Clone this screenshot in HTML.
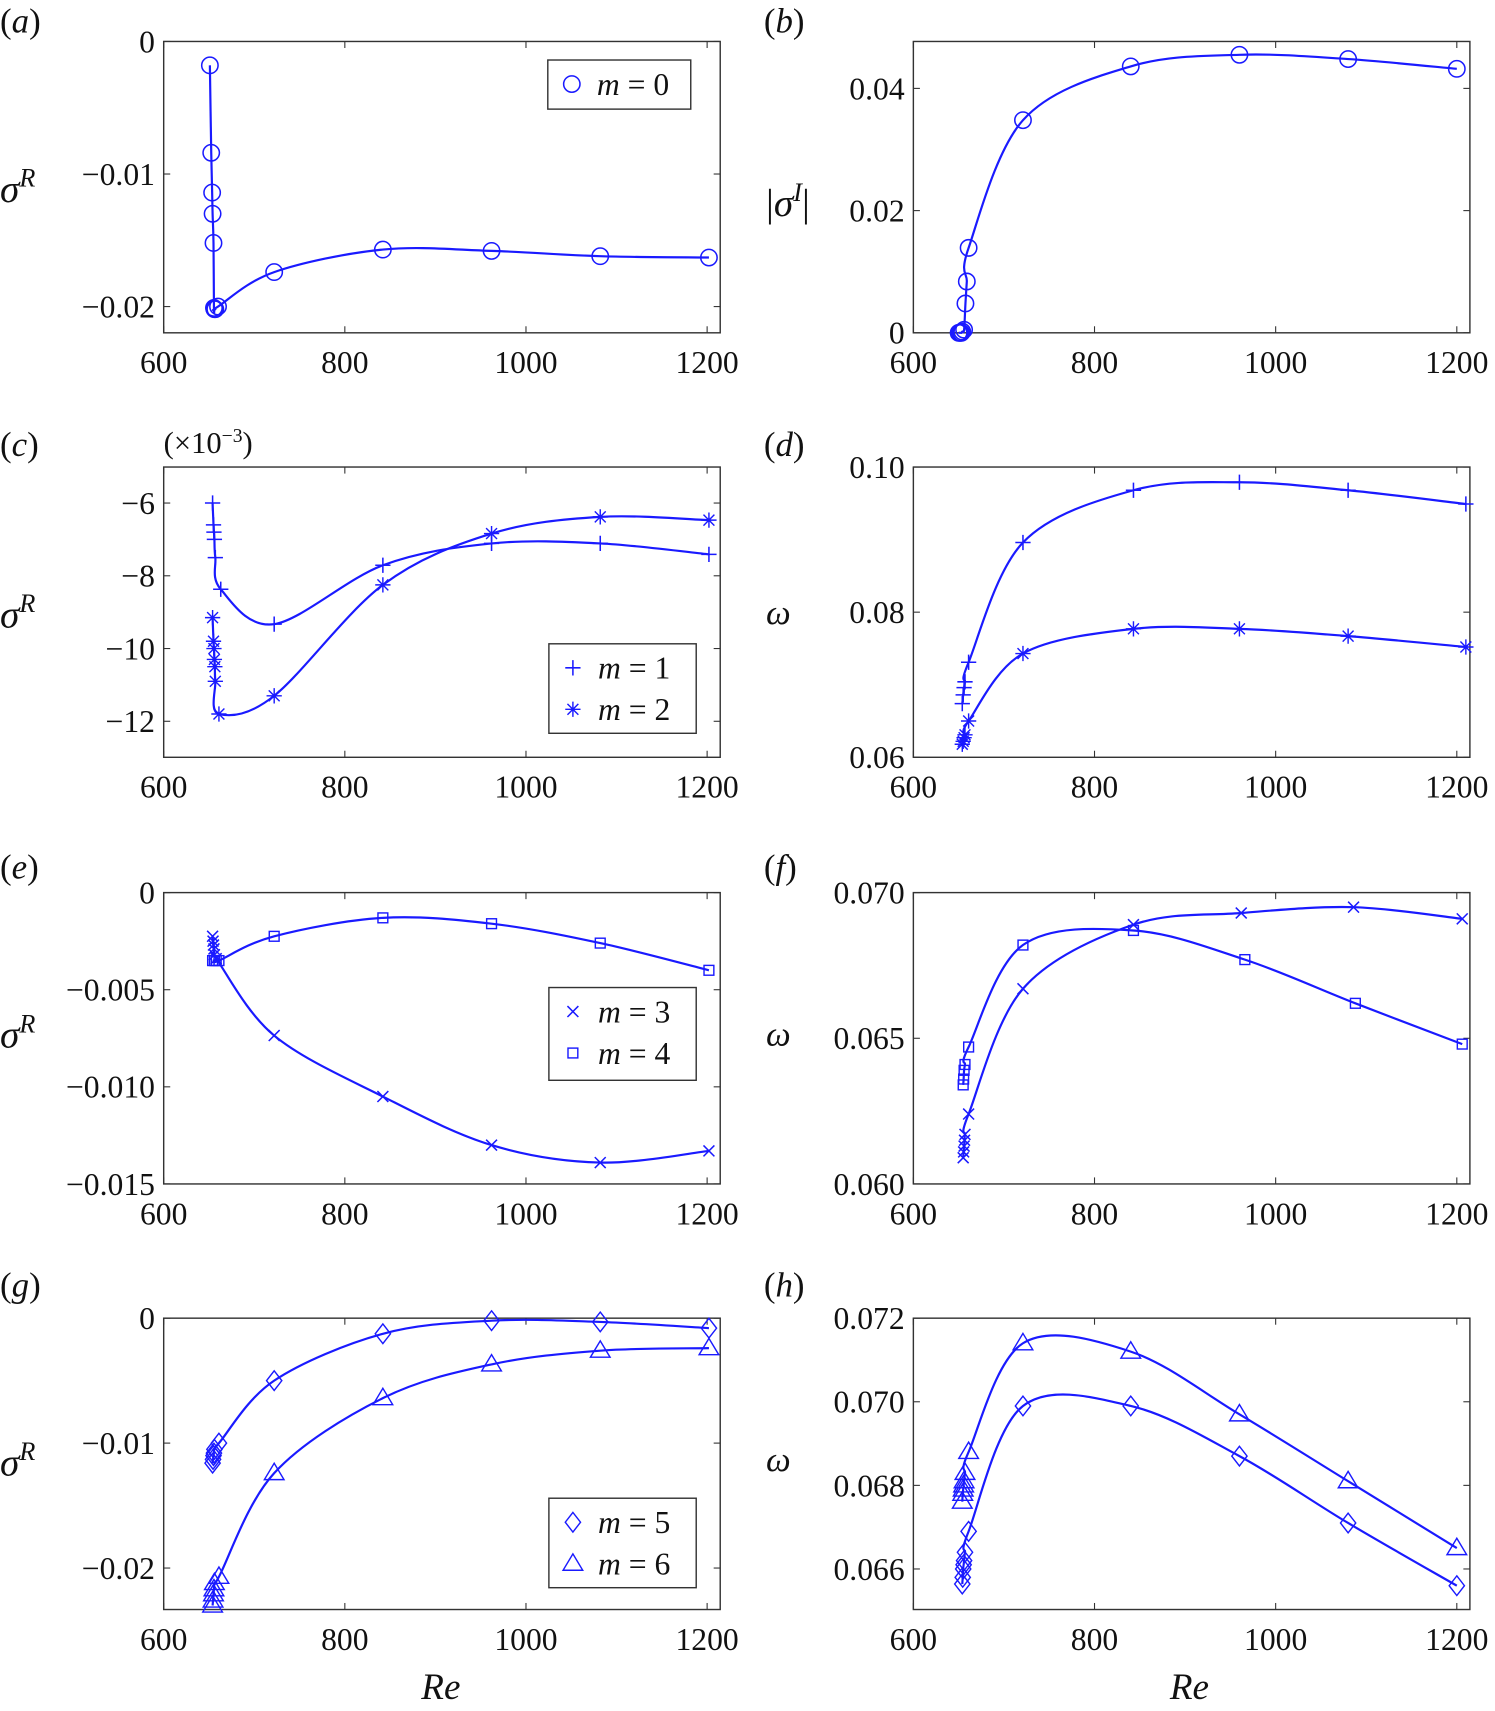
<!DOCTYPE html>
<html><head><meta charset="utf-8"><style>
html,body{margin:0;padding:0;background:#fff}
svg{display:block;font-family:"Liberation Serif","Times New Roman",serif}
svg text{font-family:"Liberation Serif","Times New Roman",serif;fill:#111}
</style></head><body>
<svg id="fig" width="1495" height="1711" viewBox="0 0 1370 1568" preserveAspectRatio="none" font-family="Liberation Serif, Times New Roman, serif" xmlns="http://www.w3.org/2000/svg"></svg>
<script>
// ---- data (Re, values) ----
const reA = [651,652.5,653.5,654,655,655.5,656,657,660,722,842,962,1082,1202];
const sigA_m0 = [-0.0018,-0.0084,-0.0114,-0.0130,-0.0152,-0.0201,-0.0202,-0.0202,-0.0200,-0.0174,-0.0157,-0.0158,-0.0162,-0.0163];
const reB = [650,651,652,653,654,656,657.5,659,661,721,840,960,1080,1200];
const sigB_m0 = [0,0,0,0,0.0002,0.0005,0.0048,0.0084,0.0139,0.0348,0.0436,0.0455,0.0448,0.0432];
const reC1 = [654,655,655.5,656,657,663,722,842,962,1082,1202];
const sigC_m1 = [-6.0,-6.6,-6.8,-7.0,-7.5,-8.37,-9.33,-7.71,-7.11,-7.11,-7.41];
const reC2 = [654,655,655.5,656,656.5,657,661,722,842,962,1082,1202];
const sigC_m2 = [-9.15,-9.8,-10.0,-10.3,-10.5,-10.9,-11.8,-11.3,-8.25,-6.84,-6.38,-6.47];
const reD = [654,655,656,657,661,721,843,960,1080,1210];
const omD_m1 = [0.0674,0.0686,0.0696,0.0704,0.0731,0.0896,0.0968,0.0979,0.0968,0.0949];
const omD_m2 = [0.0618,0.0622,0.0627,0.0631,0.0650,0.0743,0.0777,0.0777,0.0767,0.0752];
const reE = [654,654.5,655,655.5,656,658,722,842,962,1082,1202];
const sigE_m3 = [-0.00225,-0.0025,-0.0027,-0.0029,-0.0032,-0.0034,-0.00736,-0.0105,-0.0130,-0.0139,-0.0133];
const reE4 = [654,656,658,661,722,842,962,1082,1202];
const sigE_m4 = [-0.0035,-0.0035,-0.0035,-0.0035,-0.00225,-0.0013,-0.0016,-0.0026,-0.0040];
const reF = [655,655.5,656,656.5,657,661,721,843,962,1086,1206];
const omF_m3 = [0.0609,0.0611,0.0613,0.0615,0.0617,0.0624,0.0667,0.0689,0.0693,0.0695,0.0691];
const reF4 = [655,655.5,656,657,661,721,843,966,1088,1206];
const omF_m4 = [0.0634,0.0636,0.0639,0.0641,0.0647,0.0682,0.0687,0.0677,0.0662,0.0648];
const reG = [654,654.5,655,655.5,656,661,722,842,962,1082,1202];
const sigG_m5 = [-0.0116,-0.0113,-0.0110,-0.0108,-0.0105,-0.0100,-0.0050,-0.00125,-0.0002,-0.0003,-0.0008];
const sigG_m6 = [-0.0230,-0.0226,-0.0221,-0.0217,-0.0212,-0.0207,-0.0124,-0.0064,-0.0037,-0.0026,-0.0024];
const reH = [654,654.5,655,655.5,656,657,661,721,840,960,1080,1200];
const omH_m5 = [0.06564,0.0658,0.0660,0.0661,0.0662,0.0664,0.0669,0.0699,0.0699,0.0687,0.0671,0.0656];
const omH_m6 = [0.06761,0.0678,0.0679,0.0680,0.0681,0.0683,0.0688,0.0714,0.0712,0.0697,0.0681,0.0665];
const xTicks = [600,800,1000,1200];

const NS='http://www.w3.org/2000/svg', svg=document.getElementById('fig');
const FF='Liberation Serif, Times New Roman, serif';
function mk(tag,attrs,parent){const e=document.createElementNS(NS,tag);for(const k in attrs)e.setAttribute(k,attrs[k]);if(tag==='text')e.setAttribute('font-family',FF);(parent||svg).appendChild(e);return e;}
const C='#1a1aff';

function panel(id,x0,top,bot,ymin,ymax,yticks,ylabels){
  const g=mk('g',{});
  
  
  const w=510, sx=v=>x0+(v-600)*0.83, sy=v=>bot-(v-ymin)/(ymax-ymin)*(bot-top);
  const box=mk('rect',{x:x0,y:top,width:w,height:bot-top,fill:'none',stroke:'#333','stroke-width':1.3},g);
  
  xTicks.forEach(t=>{const x=sx(t);
    mk('line',{x1:x,y1:bot,x2:x,y2:bot-6,stroke:'#333'},g);mk('line',{x1:x,y1:top,x2:x,y2:top+6,stroke:'#333'},g);
    const tx=mk('text',{x:x,y:bot+37,'text-anchor':'middle','font-size':29},g);tx.textContent=t;
    });
  yticks.forEach((t,i)=>{const y=sy(t);
    mk('line',{x1:x0,y1:y,x2:x0+6,y2:y,stroke:'#333'},g);mk('line',{x1:x0+w,y1:y,x2:x0+w-6,y2:y,stroke:'#333'},g);
    const tx=mk('text',{x:x0-8,y:y+10,'text-anchor':'end','font-size':29},g);tx.textContent=ylabels[i];
    });
  return {g,sx,sy};
}
function path(P,xs,ys){
  const pts=xs.map((x,i)=>[P.sx(x),P.sy(ys[i])]);
  let d='M'+pts[0][0]+','+pts[0][1];
  for(let i=0;i<pts.length-1;i++){
    const p0=pts[Math.max(0,i-1)],p1=pts[i],p2=pts[i+1],p3=pts[Math.min(pts.length-1,i+2)];
    const c1=[p1[0]+(p2[0]-p0[0])/6,p1[1]+(p2[1]-p0[1])/6],c2=[p2[0]-(p3[0]-p1[0])/6,p2[1]-(p3[1]-p1[1])/6];
    d+=' C'+c1+' '+c2+' '+p2;
  }
  const e=mk('path',{d:d,fill:'none',stroke:C,'stroke-width':2},P.g);
  
}
function marker(g,type,x,y){
  const r=7;let e;
  if(type==='o')e=mk('circle',{cx:x,cy:y,r:7.5,fill:'none',stroke:C,'stroke-width':1.4},g);
  else if(type==='+')e=mk('path',{d:`M${x-r},${y}H${x+r}M${x},${y-r}V${y+r}`,stroke:C,'stroke-width':1.4},g);
  else if(type==='x')e=mk('path',{d:`M${x-5},${y-5}L${x+5},${y+5}M${x-5},${y+5}L${x+5},${y-5}`,stroke:C,'stroke-width':1.4},g);
  else if(type==='*')e=mk('path',{d:`M${x-r},${y}H${x+r}M${x},${y-r}V${y+r}M${x-5},${y-5}L${x+5},${y+5}M${x-5},${y+5}L${x+5},${y-5}`,stroke:C,'stroke-width':1.3},g);
  else if(type==='s')e=mk('rect',{x:x-4.5,y:y-4.5,width:9,height:9,fill:'none',stroke:C,'stroke-width':1.3},g);
  else if(type==='d')e=mk('path',{d:`M${x},${y-9}L${x+7},${y}L${x},${y+9}L${x-7},${y}Z`,fill:'none',stroke:C,'stroke-width':1.3},g);
  else if(type==='^')e=mk('path',{d:`M${x},${y-9}L${x+9},${y+6}L${x-9},${y+6}Z`,fill:'none',stroke:C,'stroke-width':1.3},g);
  
}
function series(P,xs,ys,type){path(P,xs,ys);xs.forEach((x,i)=>marker(P.g,type,P.sx(x),P.sy(ys[i])));}
function txt(html,x,y,size,name,anchor){const t=mk('text',{x:x,y:y,'font-size':size,'text-anchor':anchor||'start'});t.innerHTML=html;
  return t;}
function legend(x,y,w,h,items){
  const g=mk('g',{});
  mk('rect',{x:x,y:y,width:w,height:h,fill:'#fff',stroke:'#333','stroke-width':1.3},g);
  items.forEach((it,i)=>{const cy=y+22+i*38;marker(g,it[0],x+22,cy);
    const t=mk('text',{x:x+45,y:cy+10,'font-size':29},g);t.innerHTML='<tspan font-style="italic">m</tspan> = '+it[1];
    });
}
const L=150,R=837;
// (a)
let P=panel('a',L,38,305,-0.02198,0,[0,-0.01,-0.02],['0','\u22120.01','\u22120.02']);
series(P,reA,sigA_m0,'o');legend(502,55,131,45,[['o','0']]);
// (b)
P=panel('b',R,38,305,0,0.04768,[0,0.02,0.04],['0','0.02','0.04']);
series(P,reB,sigB_m0,'o');
// (c)
P=panel('c',L,428,694,-12.99,-5.01,[-6,-8,-10,-12],['\u22126','\u22128','\u221210','\u221212']);
series(P,reC1,sigC_m1,'+');series(P,reC2,sigC_m2,'*');legend(503,590,135,82,[['+','1'],['*','2']]);
txt('(×10<tspan dy="-10" font-size="18">−3</tspan><tspan dy="10">)</tspan>',150,415,28,'scale-note');
// (d)
P=panel('d',R,428,694,0.06,0.10,[0.06,0.08,0.10],['0.06','0.08','0.10']);
series(P,reD,omD_m1,'+');series(P,reD,omD_m2,'*');
// (e)
P=panel('e',L,818,1085,-0.015,0,[0,-0.005,-0.010,-0.015],['0','\u22120.005','\u22120.010','\u22120.015']);
series(P,reE,sigE_m3,'x');series(P,reE4,sigE_m4,'s');legend(503,905,135,85,[['x','3'],['s','4']]);
// (f)
P=panel('f',R,818,1085,0.060,0.070,[0.060,0.065,0.070],['0.060','0.065','0.070']);
series(P,reF,omF_m3,'x');series(P,reF4,omF_m4,'s');
// (g)
P=panel('g',L,1208,1475,-0.02332,0,[0,-0.01,-0.02],['0','\u22120.01','\u22120.02']);
series(P,reG,sigG_m5,'d');series(P,reG,sigG_m6,'^');legend(503,1373,135,82,[['d','5'],['^','6']]);
// (h)
P=panel('h',R,1208,1475,0.06503,0.072,[0.066,0.068,0.070,0.072],['0.066','0.068','0.070','0.072']);
series(P,reH,omH_m5,'d');series(P,reH,omH_m6,'^');

// labels
[['a',0,30],['b',700,30],['c',0,418],['d',700,418],['e',0,805],['f',700,805],['g',0,1188],['h',700,1188]].forEach(p=>{
  txt('(<tspan font-style="italic">'+p[0]+'</tspan>)',p[1],p[2],32,'panel-label-'+p[0]);});
const sR='<tspan font-style="italic">σ</tspan><tspan dy="-14" font-size="24" font-style="italic">R</tspan>';
[185,575,960,1352].forEach(y=>txt(sR,0,y,36,'y-axis-title'));
txt('|<tspan font-style="italic">σ</tspan><tspan dy="-14" font-size="24" font-style="italic">I</tspan><tspan dy="14">|</tspan>',702,198,36,'y-axis-title');
[572,958,1348].forEach(y=>txt('<tspan font-style="italic">ω</tspan>',702,y,32,'y-axis-title'));
txt('<tspan font-style="italic">Re</tspan>',404,1557,34,'x-axis-title','middle');
txt('<tspan font-style="italic">Re</tspan>',1090,1557,34,'x-axis-title','middle');
</script>
</body></html>
